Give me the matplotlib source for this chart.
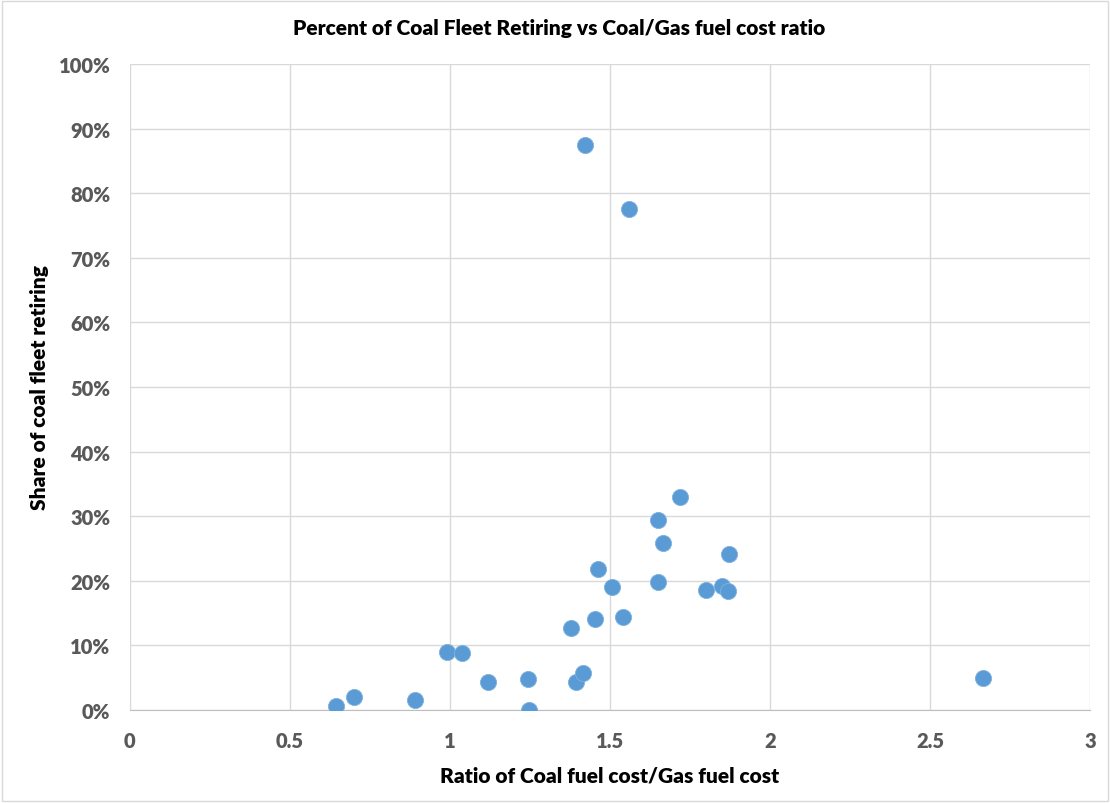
import matplotlib.pyplot as plt
from matplotlib.ticker import FuncFormatter, MultipleLocator
from matplotlib.patches import Rectangle

# 煤/气燃料成本比 vs 退役比例
fuel_ratio = [0.644, 0.70, 0.891, 0.991, 1.0375, 1.118, 1.245, 1.248, 1.378, 1.393,
              1.415, 1.422, 1.454, 1.463, 1.507, 1.542, 1.559, 1.649, 1.649, 1.665,
              1.719, 1.80, 1.851, 1.870, 1.872, 2.666]
share_retiring = [0.0057, 0.0206, 0.0159, 0.0893, 0.0882, 0.0438, 0.0475, 0.0, 0.1269, 0.0438,
                  0.0573, 0.875, 0.1409, 0.2183, 0.1904, 0.1435, 0.7755, 0.2941, 0.1986, 0.2585,
                  0.3297, 0.1853, 0.1924, 0.1837, 0.2419, 0.0495]

plt.rcParams['font.family'] = ['Lato', 'DejaVu Sans']

fig = plt.figure(figsize=(11.1, 8.04), dpi=100)
ax = fig.add_axes([0.117, 0.1157, 0.865, 0.8035])

# 外框
fig.patches.append(Rectangle((0.002, 0.002), 0.996, 0.996, transform=fig.transFigure,
                             fill=False, edgecolor='#D9D9D9', linewidth=1))

ax.scatter(fuel_ratio, share_retiring, s=135, color='#5B9BD5', zorder=3,
           edgecolors='#7FB2DF', linewidths=0.6)

ax.set_xlim(0, 3)
ax.set_ylim(0, 1.0)
ax.xaxis.set_major_locator(MultipleLocator(0.5))
ax.yaxis.set_major_locator(MultipleLocator(0.1))
ax.xaxis.set_major_formatter(FuncFormatter(lambda v, p: ('%g' % v)))
ax.yaxis.set_major_formatter(FuncFormatter(lambda v, p: '%d%%' % round(v * 100)))

ax.grid(True, color='#D9D9D9', linewidth=1)
ax.set_axisbelow(True)
for s in ['left', 'top', 'right']:
    ax.spines[s].set_visible(False)
ax.spines['bottom'].set_color('#BFBFBF')
ax.tick_params(length=0, labelsize=14.5, labelcolor='#595959')
ax.tick_params(axis='x', pad=15)
ax.tick_params(axis='y', pad=14)
for lab in ax.get_xticklabels() + ax.get_yticklabels():
    lab.set_fontweight('heavy')

fig.suptitle('Percent of Coal Fleet Retiring vs Coal/Gas fuel cost ratio',
             x=0.504, y=0.965, va='center', fontsize=15, fontweight='heavy')
ax.set_xlabel('Ratio of Coal fuel cost/Gas fuel cost', fontsize=15, fontweight='heavy', labelpad=11)
ax.set_ylabel('Share of coal fleet retiring', fontsize=15, fontweight='heavy', labelpad=7)

plt.savefig('out.png', dpi=100)
